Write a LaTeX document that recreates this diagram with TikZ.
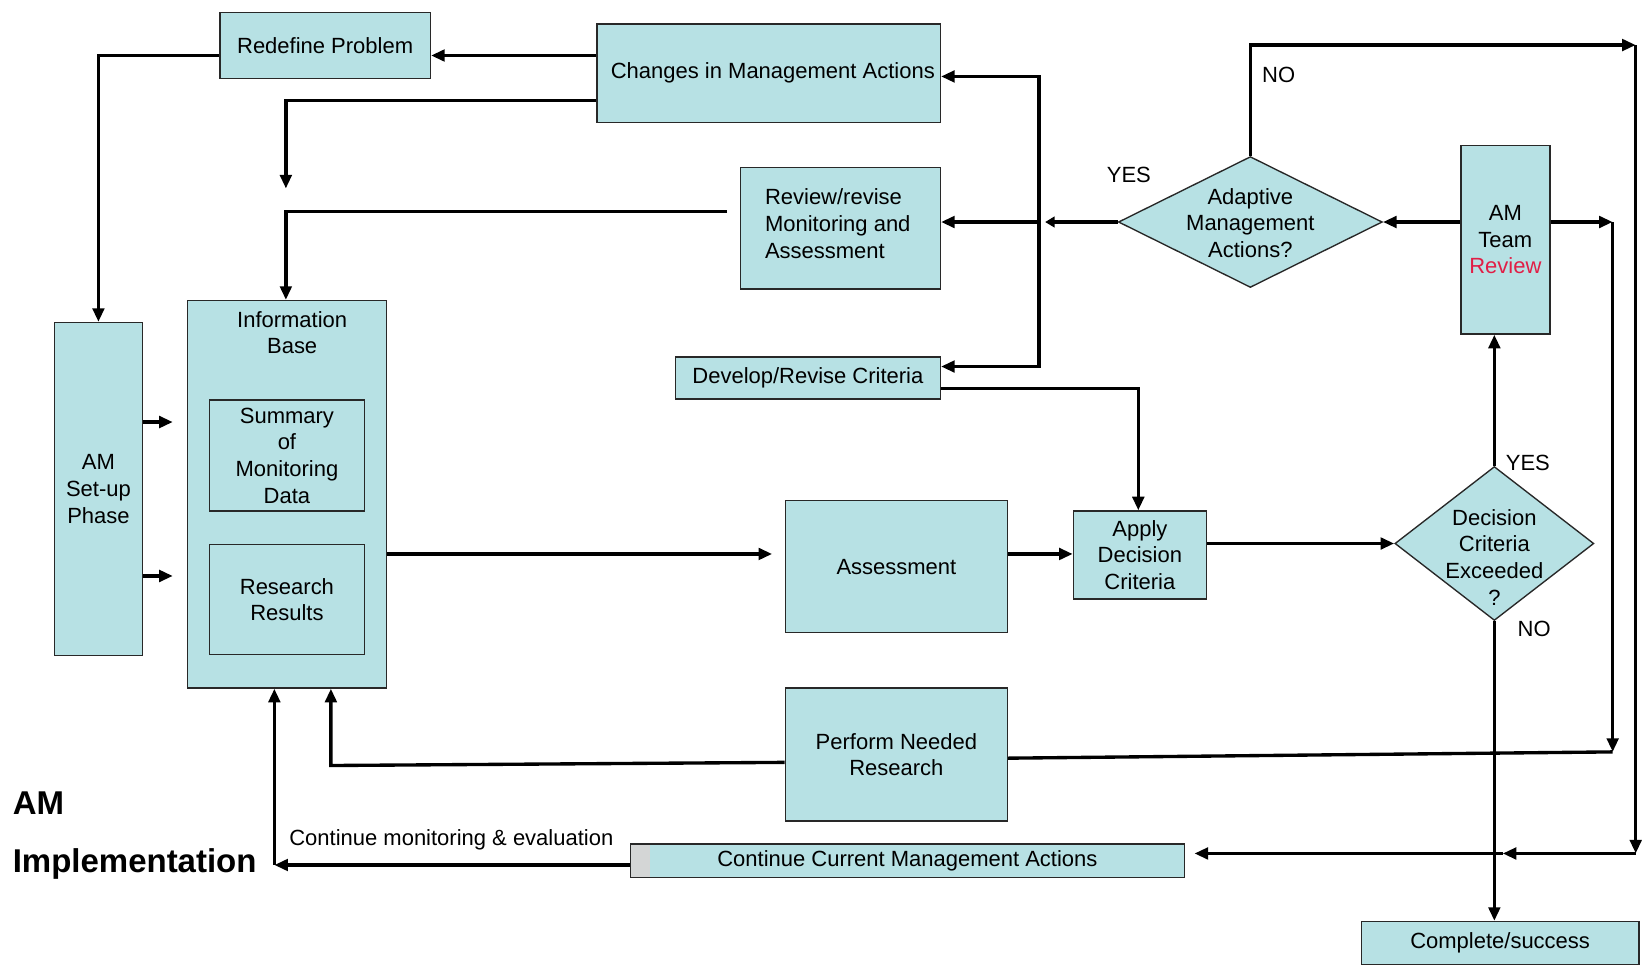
\documentclass[tikz,border=0pt]{standalone}
\usepackage{fontspec}
\setmainfont{Liberation Sans}
\usetikzlibrary{arrows.meta,shapes.geometric,calc}
\definecolor{boxfill}{RGB}{183,225,228}
\definecolor{boxline}{RGB}{40,40,40}
\definecolor{stripgrey}{RGB}{212,214,214}
\definecolor{revred}{RGB}{225,30,70}
\begin{document}
\begin{tikzpicture}[x=1pt,y=-1pt,
  sz/.style 2 args={minimum width=#1pt, minimum height=#2pt},
  box/.style={draw=boxline, line width=1.3pt, fill=boxfill, inner sep=0pt,
    align=center, font=\fontsize{21}{25.5}\selectfont},
  diam/.style={diamond, draw=boxline, line width=1.3pt, fill=boxfill, inner sep=0pt},
  txt/.style={font=\fontsize{21}{25.5}\selectfont, align=center, inner sep=0pt},
  big/.style={font=\fontsize{31.5}{36}\selectfont\bfseries, inner sep=0pt, anchor=west},
  conn/.style={line width=3.2pt},
  arr/.style={line width=3.2pt, -{Triangle[length=13pt,width=11pt]}},
  arrsmall/.style={line width=3.2pt, -{Triangle[length=9pt,width=10pt]}},
  arrboth/.style={line width=3.2pt, {Triangle[length=13pt,width=11pt]}-{Triangle[length=13pt,width=11pt]}},
  leftstrip/.style={path picture={\fill[stripgrey]
      (path picture bounding box.south west) rectangle
      ([xshift=19pt]path picture bounding box.north west);}}]
\useasboundingbox (0,0) rectangle (1568,922);
\fill[white] (0,0) rectangle (1568,922);

% ---- boxes ----
\node[box, sz={201}{63}]  (redef)   at (310.5,43.5) {Redefine Problem};
\node[box, sz={328}{94}]  (changes) at (734,70)     {};
\node[txt] (changestext) at (738,70) {Changes in Management Actions};
\node[box, sz={191}{116}] (review)  at (802.5,218)  {};
\node[txt, align=left] (reviewtext) at (800,213.5) {Review/revise\\Monitoring and\\Assessment};
\node[box, sz={253}{40}]  (develop) at (771.5,361)  {Develop/Revise Criteria};
\node[box, sz={85}{180}]  (team)    at (1437.5,229) {AM\\Team\\\textcolor{revred}{Review}};
\node[box, sz={84}{318}]  (setup)   at (94,467)     {AM\\Set-up\\Phase};
\node[box, sz={190}{370}] (info)    at (274,472)    {};
\node[txt] (infotitle) at (279,317.5) {Information\\Base};
\node[box, sz={148}{106}] (summary) at (274,435)    {Summary\\of\\Monitoring\\Data};
\node[box, sz={148}{105}] (results) at (274,572.5)  {Research\\Results};
\node[box, sz={212}{126}] (assess)  at (856,541)    {Assessment};
\node[box, sz={127}{84}]  (apply)   at (1088.5,530) {Apply\\Decision\\Criteria};
\node[box, sz={212}{127}] (perform) at (856,720.5)  {Perform Needed\\Research};
\node[box, leftstrip, sz={529}{32}] (contin) at (866.5,822) {Continue Current Management Actions};
\node[box, sz={265}{41}]  (complete) at (1432.5,900.5) {Complete/success};

% ---- decisions ----
\node[diam, sz={252}{125}] (adapt) at (1194,212) {};
\node[txt] (adapttext) at (1194,213) {Adaptive\\Management\\Actions?};
\node[diam, sz={190}{147}] (decis) at (1427,519) {};
\node[txt] (decistext) at (1427,532) {Decision\\Criteria\\Exceeded\\?};

% ---- labels ----
\node[txt] (lno1)  at (1221,72)  {NO};
\node[txt] (lyes1) at (1078,167) {YES};
\node[txt] (lyes2) at (1459,442) {YES};
\node[txt] (lno2)  at (1465,601) {NO};
\node[txt] (lcont) at (431,802)  {Continue monitoring \& evaluation};
\node[big] (lam)   at (12,767) {AM};
\node[big] (limp)  at (12,825) {Implementation};

% ---- connector points ----
\coordinate (j)   at (992,212);
\coordinate (jt)  at (998,212);
\coordinate (c1)  at (273,180);
\coordinate (s1)  at (165,403);
\coordinate (s2)  at (165,550);
\coordinate (tr)  at (1562,43);
\coordinate (br)  at (1562,815);
\coordinate (bx)  at (1435,815);
\coordinate (tm)  at (1540,212);
\coordinate (pm)  at (1540,718);
\coordinate (pl)  at (316,731);
\coordinate (cl)  at (262,826);

% ---- connectors ----
\draw[arr] (changes.west|-0,53) -- (redef.east|-0,53);
\draw[arr] (redef.west|-0,53) -| (setup.north);
\draw[arr] (changes.west|-0,96) -| (c1);
\draw[arr, shorten <=12pt] (review.west|-0,202) -| (info.north-|273,0);
\draw[arrsmall] (adapt.west) -- (jt);
\draw[arr] (j) -- (review.east|-j);
\draw[arrboth] (changes.east|-0,73) -- (992,73) -- (992,350) -- (develop.east|-0,350);
\draw[arr] (develop.east|-0,371) -| (apply.north-|1087,0);
\draw[arr, shorten >=12pt] (info.east|-0,529) -- (assess.west|-0,529);
\draw[arr] (assess.east|-0,529) -- (apply.west|-0,529);
\draw[arr] (apply.east|-0,519) -- (decis.west);
\draw[arr] (decis.north) -- (decis.north|-team.south);
\draw[arr] (team.west|-adapt.east) -- (adapt.east);
\draw[arr] (adapt.north) |- (tr);
\draw[arr] (tr) -- (br);
\draw[arr] (br) -- (bx);
\draw[arr, shorten >=9pt] (bx) -- (contin.east|-bx);
\draw[arr] (team.east|-tm) -- (tm);
\draw[arr] (tm) -- (pm);
\draw[conn] (pm) -- (perform.east|-0,724);
\draw[arr] (perform.west|-0,728) -- (pl) -- (info.south-|pl);
\draw[arr] (contin.west|-cl) -- (cl);
\draw[arr] (cl) -- (info.south-|cl);
\draw[arr] (decis.south) -- (complete.north-|decis.south);
\draw[arr] (setup.east|-s1) -- (s1);
\draw[arr] (setup.east|-s2) -- (s2);
\end{tikzpicture}
\end{document}
